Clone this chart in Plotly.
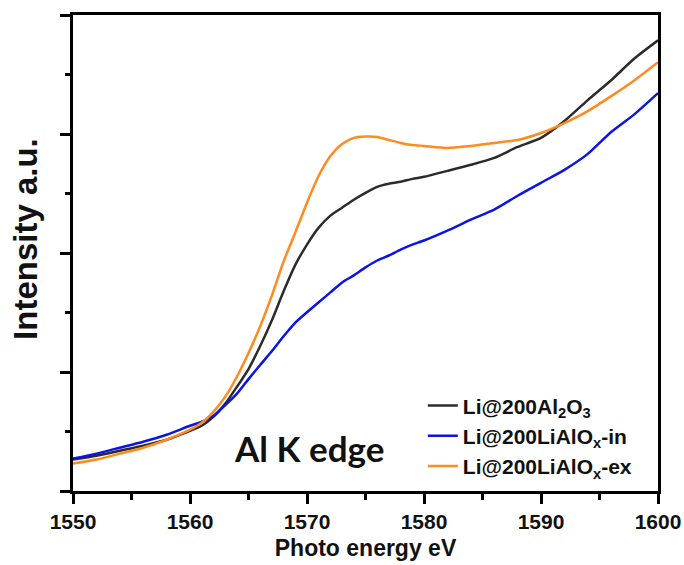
import plotly.graph_objects as go

energy = [1550, 1552, 1554, 1556, 1558, 1560, 1561, 1562, 1563, 1564, 1565, 1566,
          1567, 1568, 1569, 1570, 1571, 1572, 1573, 1574, 1575, 1576, 1577, 1578,
          1579, 1580, 1582, 1584, 1586, 1588, 1590, 1592, 1594, 1596, 1598, 1600]

al2o3 = [0.264, 0.297, 0.339, 0.381, 0.431, 0.506, 0.548, 0.623, 0.732, 0.874, 1.025, 1.218,
         1.435, 1.678, 1.900, 2.071, 2.213, 2.314, 2.381, 2.448, 2.506, 2.556, 2.582, 2.598,
         2.623, 2.640, 2.690, 2.741, 2.799, 2.891, 2.967, 3.109, 3.285, 3.452, 3.636, 3.787]

lialox_in = [0.272, 0.314, 0.364, 0.414, 0.473, 0.548, 0.582, 0.632, 0.720, 0.816, 0.940, 1.059,
             1.176, 1.300, 1.415, 1.502, 1.586, 1.669, 1.753, 1.812, 1.879, 1.937, 1.979, 2.029,
             2.071, 2.105, 2.188, 2.280, 2.364, 2.481, 2.590, 2.699, 2.833, 3.017, 3.167, 3.343]

lialox_ex = [0.230, 0.264, 0.314, 0.364, 0.431, 0.515, 0.573, 0.665, 0.791, 0.958, 1.159, 1.385,
             1.644, 1.929, 2.172, 2.423, 2.649, 2.816, 2.916, 2.967, 2.979, 2.975, 2.950, 2.925,
             2.908, 2.900, 2.883, 2.900, 2.925, 2.950, 3.008, 3.092, 3.192, 3.318, 3.452, 3.603]

names = ["Li@200Al<sub>2</sub>O<sub>3</sub>",
         "Li@200LiAlO<sub>x</sub>-in",
         "Li@200LiAlO<sub>x</sub>-ex"]
colors = ["#2b2b2b", "#0a14e6", "#ff8a1f"]
series = [al2o3, lialox_in, lialox_ex]

fig = go.Figure()
for name, col, ys in zip(names, colors, series):
    fig.add_trace(go.Scatter(x=energy, y=ys, mode="lines", name=name,
                             line=dict(color=col, width=2.5, shape="spline", smoothing=0.6)))

fig.add_annotation(x=1570.2, y=0.36, xref="x", yref="y", text="Al K edge",
                   showarrow=False,
                   font=dict(family="Lato", size=35, color="#111111", weight="bold"))

fig.add_annotation(x=-0.08, y=0.53, xref="paper", yref="paper", text="Intensity a.u.",
                   showarrow=False, textangle=-90, xanchor="center", yanchor="middle",
                   font=dict(family="Liberation Sans", size=33, color="#111111", weight="bold"))

axis_font = dict(family="Liberation Sans", size=21, color="#111111", weight="bold")

fig.update_layout(
    width=684, height=565,
    margin=dict(l=73, r=26, t=15, b=74),
    paper_bgcolor="white", plot_bgcolor="white",
    showlegend=True,
    legend=dict(x=0.598, y=0.222, xanchor="left", yanchor="top",
                bgcolor="rgba(0,0,0,0)", borderwidth=0,
                font=dict(family="Liberation Sans", size=21, color="#111111", weight="bold"),
                tracegroupgap=0),
    xaxis=dict(range=[1550, 1600], dtick=10, tick0=1550, automargin=False,
               showgrid=False, zeroline=False,
               showline=True, linecolor="black", linewidth=2.5, mirror=True,
               ticks="outside", ticklen=10, tickwidth=2.5, tickcolor="black",
               minor=dict(dtick=5, ticklen=6, tickwidth=2.5, ticks="outside", tickcolor="black"),
               tickfont=axis_font,
               title=dict(text="Photo energy eV", standoff=8,
                          font=dict(family="Liberation Sans", size=23, color="#111111", weight="bold"))),
    yaxis=dict(range=[0, 4], dtick=1, tick0=0, automargin=False,
               showgrid=False, zeroline=False, showticklabels=False,
               showline=True, linecolor="black", linewidth=2.5, mirror=True,
               ticks="outside", ticklen=10, tickwidth=2.5, tickcolor="black",
               minor=dict(dtick=0.5, ticklen=5, tickwidth=2.5, ticks="outside", tickcolor="black")),
)

fig.write_html("out.html")
